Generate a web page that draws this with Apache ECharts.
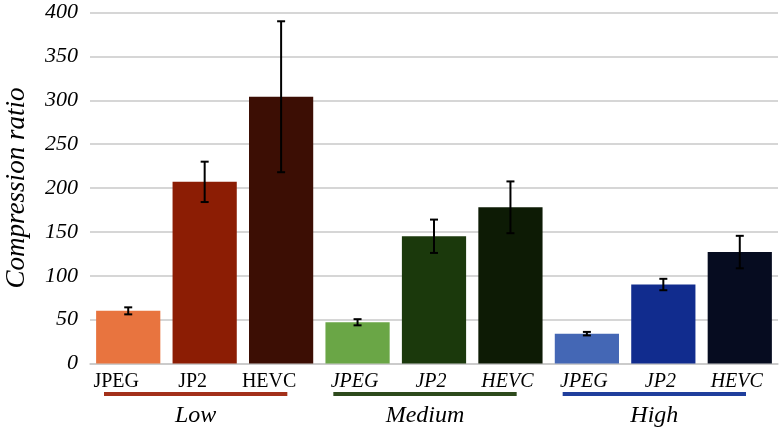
<!DOCTYPE html>
<html><head><meta charset="utf-8">
<script src="https://cdn.jsdelivr.net/npm/echarts@6/dist/echarts.min.js"></script>
<style>html,body{margin:0;padding:0;background:#fff}#c{width:780px;height:429px}</style>
</head><body><div id="c"></div>
<script>
const categories = ['JPEG','JP2','HEVC','JPEG','JP2','HEVC','JPEG','JP2','HEVC'];
const values = [60, 207, 304, 47, 145, 178, 34, 90, 127];
const errors = [4, 23, 86, 3.5, 19, 29.5, 2, 6.5, 18.5];
const barColors = ['#E8743F','#8C1D04','#3C0E04','#6AA646','#1B390C','#0D1B05','#4467B5','#112C8E','#060C20'];
const groups = ['Low','Medium','High'];
const groupColors = ['#A3301A','#2D4A1C','#1F3E9C'];
const yTicks = {min: 0, max: 400, interval: 50};
const serif = '"Liberation Serif", "DejaVu Serif", serif';

const chart = echarts.init(document.getElementById('c'), null, {renderer: 'canvas'});
const option = {
  animation: false,
  grid: {left: 90, right: 2, top: 12.5, bottom: 65.5, containLabel: false, outerBoundsMode: 'none'},
  xAxis: {
    type: 'category', data: categories,
    axisLine: {show: true, lineStyle: {color: '#C8C8C8', width: 1.5}},
    axisTick: {show: false},
    axisLabel: {
      interval: 0, hideOverlap: false,
      margin: 8, color: '#000', fontFamily: serif, fontSize: 20,
      formatter: (v, i) => i < 3 ? '{n|' + v + '}' : '{it|' + v + '}',
      rich: {
        n: {fontFamily: serif, fontSize: 20, color: '#000', fontStyle: 'normal', padding: [0, 24, 0, 0]},
        it: {fontFamily: serif, fontSize: 20, color: '#000', fontStyle: 'italic', padding: [0, 6, 0, 0]}
      }
    }
  },
  yAxis: {
    type: 'value', min: yTicks.min, max: yTicks.max, interval: yTicks.interval,
    name: 'Compression ratio', nameLocation: 'middle', nameGap: 60,
    nameTextStyle: {fontFamily: serif, fontSize: 27, fontStyle: 'italic', color: '#000'},
    axisLabel: {margin: 12, color: '#000', fontFamily: serif, fontSize: 22, fontStyle: 'italic'},
    splitLine: {lineStyle: {color: '#C8C8C8', width: 1.5}},
    axisLine: {show: false}, axisTick: {show: false}
  },
  series: [
    {
      type: 'bar', barCategoryGap: '16%',
      data: values.map((v, i) => ({value: v, itemStyle: {color: barColors[i]}}))
    },
    {
      type: 'custom', z: 10,
      data: values.map((v, i) => [i, v - errors[i], v + errors[i]]),
      renderItem: function (params, api) {
        const x = api.value(0);
        const lo = api.coord([x, api.value(1)]);
        const hi = api.coord([x, api.value(2)]);
        const cap = 4;
        const st = {stroke: '#000', lineWidth: 2};
        return {type: 'group', children: [
          {type: 'line', shape: {x1: lo[0], y1: lo[1], x2: hi[0], y2: hi[1]}, style: st},
          {type: 'line', shape: {x1: lo[0]-cap, y1: lo[1], x2: lo[0]+cap, y2: lo[1]}, style: st},
          {type: 'line', shape: {x1: hi[0]-cap, y1: hi[1], x2: hi[0]+cap, y2: hi[1]}, style: st}
        ]};
      }
    }
  ]
};
chart.setOption(option);

// group underlines and labels positioned from the category axis
const graphics = [];
const step = chart.convertToPixel({xAxisIndex: 0}, 1) - chart.convertToPixel({xAxisIndex: 0}, 0);
const axisY = chart.convertToPixel({yAxisIndex: 0}, 0);
groups.forEach((g, k) => {
  const start = chart.convertToPixel({xAxisIndex: 0}, k * 3) - step / 2;
  const end = chart.convertToPixel({xAxisIndex: 0}, k * 3 + 2) + step / 2;
  const x1 = start + 14, x2 = end - 32;
  graphics.push({type: 'rect', shape: {x: x1, y: axisY + 28.5, width: x2 - x1, height: 4},
    style: {fill: groupColors[k]}, silent: true});
  graphics.push({type: 'text', x: (x1 + x2) / 2, y: axisY + 52,
    style: {text: g, fontFamily: serif, fontSize: 24, fontStyle: 'italic', fill: '#000',
      align: 'center', verticalAlign: 'middle'}, silent: true});
});
chart.setOption({graphic: graphics});
</script>
</body></html>
